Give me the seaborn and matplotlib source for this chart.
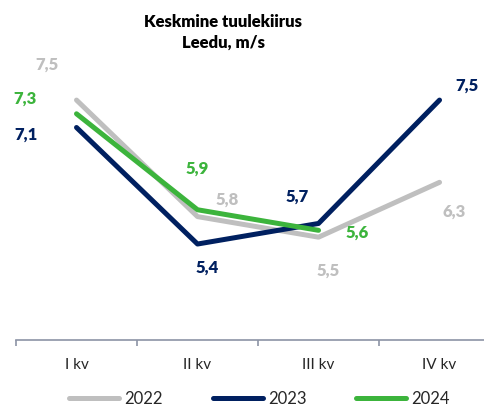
import pandas as pd
import seaborn as sns
import matplotlib.pyplot as plt
from matplotlib.lines import Line2D

quarters = ["I kv", "II kv", "III kv", "IV kv"]
years = ["2022", "2023", "2024"]
v2022 = [7.5, 5.8, 5.5, 6.3]
v2023 = [7.1, 5.4, 5.7, 7.5]
v2024 = [7.3, 5.9, 5.6, None]

colors = {"2022": "#bfbfbf", "2023": "#002060", "2024": "#3cb43c"}

# label offsets in pixels (dx, dy) per year, per quarter
offsets = {
    "2022": [(-30, 35), (30, 17), (10, -34), (15, -29)],
    "2023": [(-51, -7), (10, -24), (-21, 27), (27, 14)],
    "2024": [(-52, 15), (0, 41), (39, -2), None],
}

rows = []
for year, vals in zip(years, [v2022, v2023, v2024]):
    for q, v in zip(quarters, vals):
        if v is not None:
            rows.append({"kv": q, "year": year, "value": v})
df = pd.DataFrame(rows)

sns.set_style("white")
plt.rcParams["font.family"] = ["Lato", "DejaVu Sans"]

fig = plt.figure(figsize=(4.85, 4.08), dpi=100)
ax = fig.add_axes([0.033, 0.1667, 0.998, 0.672])

sns.lineplot(data=df, x="kv", y="value", hue="year", palette=colors,
             linewidth=3.6, ax=ax, legend=False, sort=False)
for line in ax.lines:
    line.set_solid_capstyle("round")
    line.set_solid_joinstyle("round")

for year, vals in zip(years, [v2022, v2023, v2024]):
    for i, v in enumerate(vals):
        if v is None:
            continue
        dx, dy = offsets[year][i]
        ax.annotate(f"{v:.1f}".replace(".", ","), (i, v), xytext=(dx, dy),
                    textcoords="offset pixels", ha="center", va="center",
                    fontsize=12, fontweight="heavy", color=colors[year])

ax.set_xlim(-0.5, 3.5)
ax.set_ylim(4, 8)
ax.set_yticks([])
ax.set_xlabel("")
ax.set_ylabel("")
for s in ["left", "right", "top"]:
    ax.spines[s].set_visible(False)
ax.spines["bottom"].set_color("#8c93a5")
ax.spines["bottom"].set_linewidth(1.2)

ax.set_xticks(range(4))
ax.set_xticklabels(quarters, fontsize=11, color="#262626")
ax.set_xticks([-0.5, 0.5, 1.5, 2.5, 3.5], minor=True)
ax.tick_params(axis="x", which="major", length=0, pad=13)
ax.tick_params(axis="x", which="minor", length=4, width=1.2, color="#8c93a5",
               direction="out", bottom=True)

fig.text(0.46, 0.965, "Keskmine tuulekiirus\nLeedu, m/s", ha="center", va="top",
         fontsize=12, fontweight="heavy", color="#000000", linespacing=1.35)

handles = [Line2D([0], [0], color=colors[y], linewidth=3.6, solid_capstyle="round")
           for y in years]
fig.legend(handles, years, loc="center", bbox_to_anchor=(0.535, 0.022), ncol=3,
           frameon=False, fontsize=12, handlelength=3.0, handletextpad=0.3,
           columnspacing=3.0)

fig.savefig("out.png", dpi=100)
